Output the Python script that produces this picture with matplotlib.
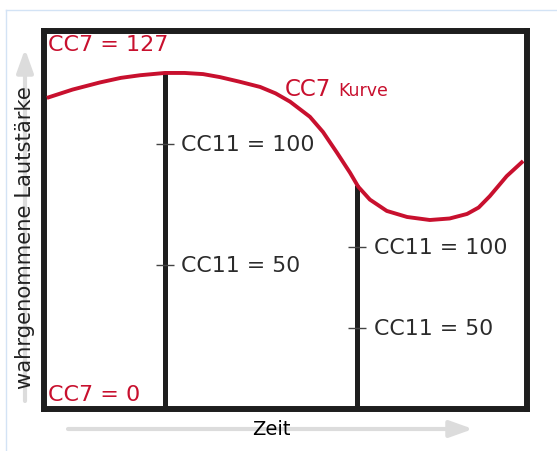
import matplotlib.pyplot as plt
from matplotlib.lines import Line2D

# CC7 curve (perceived loudness), time 0..100, level 0..100 of the box height
zeit = [0.7, 6.0, 11.7, 16.0, 20.0, 25.1, 29.2, 33.0, 36.5, 40.5, 44.8, 48.0, 51.0, 55.1,
        57.8, 60.7, 63.4, 65.1, 67.5, 71.0, 75.2, 79.9, 84.0, 87.6, 90.0, 92.3, 95.8, 99.2]
cc7_kurve = [82.3, 84.5, 86.4, 87.6, 88.3, 88.9, 88.9, 88.6, 87.8, 86.6, 85.2, 83.5, 81.3, 77.3,
             73.3, 67.8, 62.5, 58.8, 55.4, 52.4, 50.8, 50.0, 50.4, 51.6, 53.3, 56.3, 61.6, 65.6]

# CC11 markers: x position, top of line, tick levels and labels
cc11_x = [25.1, 64.9]
cc11_top = [88.9, 59.3]
cc11_ticks = [[70.1, 38.1], [42.9, 21.4]]
cc11_labels = [['CC11 = 100', 'CC11 = 50'], ['CC11 = 100', 'CC11 = 50']]

ROT = '#c8102e'
SCHWARZ = '#1e1e1e'
TEXT = '#2b2b2b'

W, H = 557, 452


def px(x, y):
    # pixel position (from top left) -> figure fraction
    return x / W, 1 - y / H


fig = plt.figure(figsize=(W / 100, H / 100), dpi=100)
fig.patch.set_facecolor('white')

# thin light blue frame at the top and left
fig.add_artist(Line2D([6 / W, 1], [1 - 11 / H] * 2, transform=fig.transFigure, color='#d3e3f5', lw=1))
fig.add_artist(Line2D([6 / W] * 2, [0, 1 - 11 / H], transform=fig.transFigure, color='#d3e3f5', lw=1))

l, t = px(43.5, 32)
r, b = px(527, 410)
ax = fig.add_axes([l, b, r - l, t - b])
ax.set_xlim(0, 100)
ax.set_ylim(0, 100)
ax.set_xticks([])
ax.set_yticks([])
for s in ax.spines.values():
    s.set_linewidth(4.3)
    s.set_color(SCHWARZ)

ax.plot(zeit, cc7_kurve, color=ROT, lw=2.8, solid_capstyle='butt', solid_joinstyle='round', zorder=3)

for x, top, ticks, labels in zip(cc11_x, cc11_top, cc11_ticks, cc11_labels):
    ax.vlines(x, 0, top, color=SCHWARZ, lw=3.6, zorder=2)
    for y, lab in zip(ticks, labels):
        ax.hlines(y, x - 1.9, x + 1.9, color='#444444', lw=1)
        ax.text(x + 3.4, y, lab, color=TEXT, fontsize=15.8, va='center', ha='left')

ax.text(0.9, 96.5, 'CC7 = 127', color=ROT, fontsize=16, va='center', ha='left')
ax.text(0.9, 4.0, 'CC7 = 0', color=ROT, fontsize=16, va='center', ha='left')
ax.text(49.9, 83.2, 'CC7', color=ROT, fontsize=16.5, va='baseline', ha='left')
ax.text(61.0, 83.2, 'Kurve', color=ROT, fontsize=12.5, va='baseline', ha='left')

# grey arrows behind the axis titles
grau = dict(arrowstyle='-|>,head_length=1.4,head_width=0.5', color='#dcdcdc', lw=3, shrinkA=0, shrinkB=0)
ax.annotate('', xy=px(473, 430), xytext=px(68, 430), xycoords='figure fraction',
            textcoords='figure fraction', arrowprops=grau)
ax.annotate('', xy=px(25, 50), xytext=px(25, 402), xycoords='figure fraction',
            textcoords='figure fraction', arrowprops=grau)

fig.text(*px(271, 430), 'Zeit', color='black', fontsize=14, ha='center', va='center', zorder=5)
fig.text(*px(25, 238), 'wahrgenommene Lautstärke', color='#222222', fontsize=15.2,
         rotation=90, ha='center', va='center', zorder=5)

fig.savefig('out.png', dpi=100)
